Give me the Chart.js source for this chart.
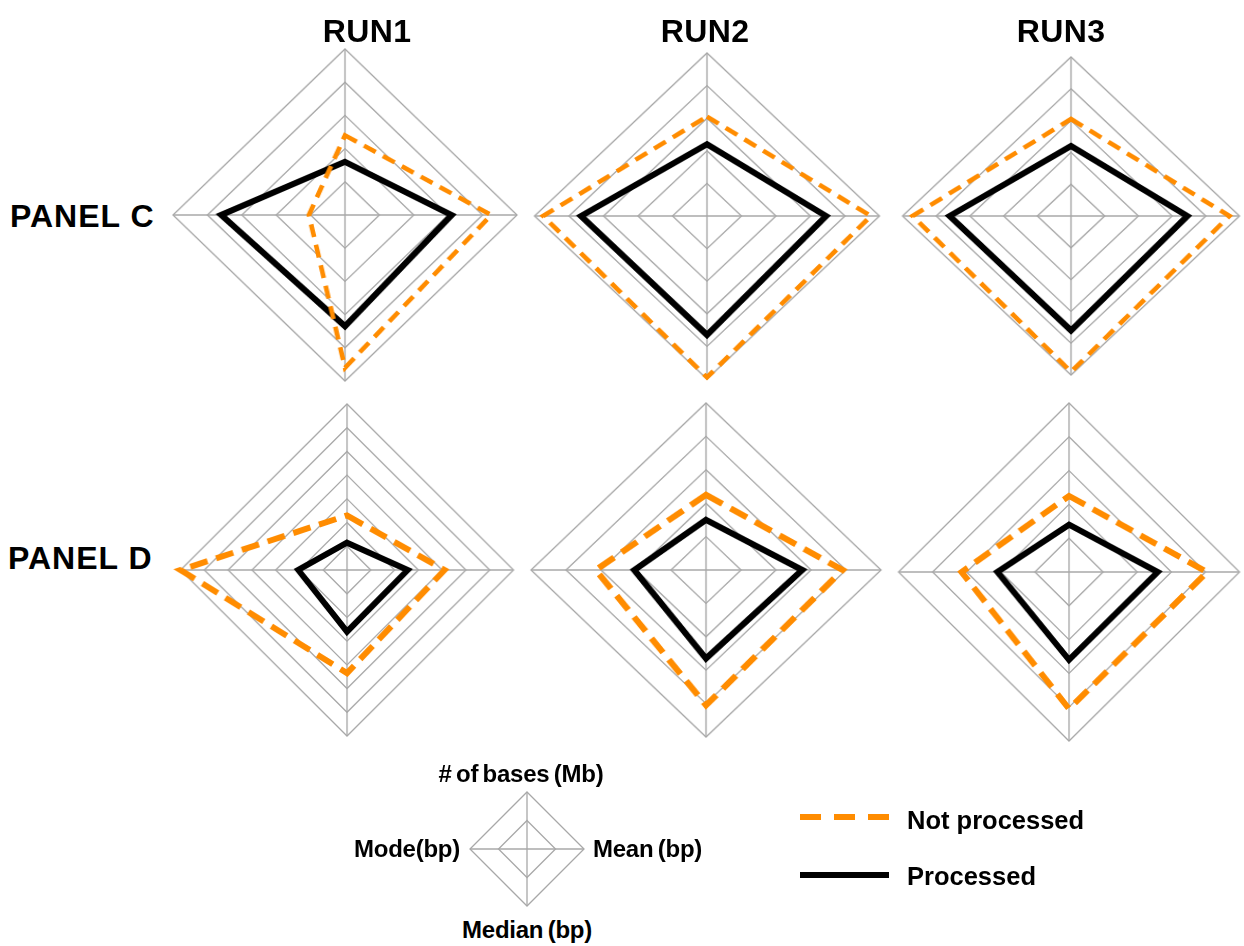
<!DOCTYPE html>
<html>
<head>
<meta charset="utf-8">
<script src="https://cdn.jsdelivr.net/npm/chart.js@4/dist/chart.umd.min.js"></script>
<style>
  html, body { margin: 0; padding: 0; background: #fff; }
  #page { position: relative; width: 1244px; height: 946px; overflow: hidden; font-family: "Liberation Sans", Arial, sans-serif; font-weight: bold; color: #000; }
  .txt { position: absolute; white-space: nowrap; line-height: 1; }
  .c { transform: translate(-50%, -50%); }
  .l { transform: translate(0, -50%); }
  .r { transform: translate(-100%, -50%); }
  .panel { position: absolute; transform-origin: 50% 50%; }
</style>
</head>
<body>
<div id="page"></div>
<script>
// axes, clockwise from the top
const axisLabels = ['# of bases (Mb)', 'Mean (bp)', 'Median (bp)', 'Mode(bp)'];
const runNames = ['RUN1', 'RUN2', 'RUN3'];
const panelNames = ['PANEL C', 'PANEL D'];
const seriesNames = ['Not processed', 'Processed'];

// values in ring units, one row per run
const panelCNotProcessed = [[2.4, 4.25, 4.6, 1.05], [3.05, 4.75, 4.95, 4.75], [3.05, 4.7, 4.9, 4.7]];
const panelCProcessed    = [[1.6, 3.1, 3.35, 3.6], [2.2, 3.45, 3.65, 3.65], [2.2, 3.45, 3.6, 3.6]];
const panelDNotProcessed = [[2.3, 4.1, 4.35, 7], [2.25, 3.9, 4.05, 3.15], [2.25, 4.05, 4.05, 3.15]];
const panelDProcessed    = [[1.15, 2.55, 2.6, 2.05], [1.5, 2.75, 2.65, 2.05], [1.4, 2.6, 2.6, 2.1]];

// number of rings on each radar
const panelCScaleMax = [5, 5, 5];
const panelDScaleMax = [7, 5, 5];

const ORANGE = '#ff8c00';
const GRID = '#a8a8a8';
const page = document.getElementById('page');

// where each radar sits: centre and horizontal / vertical radius
const layout = [
  [{ cx: 345, cy: 215.5, rx: 172.5, ry: 166.5 }, { cx: 707, cy: 216.5, rx: 173, ry: 163.5 }, { cx: 1071, cy: 215.5, rx: 168.5, ry: 159 }],
  [{ cx: 347, cy: 570, rx: 167, ry: 166.5 }, { cx: 706, cy: 570, rx: 175, ry: 167 }, { cx: 1069, cy: 571.5, rx: 170.5, ry: 169 }]
];

function addText(text, x, y, size, cls, extra) {
  const d = document.createElement('div');
  d.className = 'txt ' + cls;
  d.textContent = text;
  d.style.left = x + 'px';
  d.style.top = y + 'px';
  d.style.fontSize = size + 'px';
  if (extra) Object.assign(d.style, extra);
  page.appendChild(d);
}

function makeRadar(pos, max, datasets) {
  const pad = 10;
  const size = Math.round(pos.ry * 2) + pad * 2;
  const canvas = document.createElement('canvas');
  canvas.width = size;
  canvas.height = size;
  canvas.className = 'panel';
  canvas.style.left = (pos.cx - size / 2) + 'px';
  canvas.style.top = (pos.cy - size / 2) + 'px';
  canvas.style.width = size + 'px';
  canvas.style.height = size + 'px';
  canvas.style.transform = 'scaleX(' + (pos.rx / pos.ry) + ')';
  page.appendChild(canvas);

  new Chart(canvas.getContext('2d'), {
    type: 'radar',
    data: { labels: axisLabels, datasets: datasets },
    options: {
      responsive: false,
      animation: false,
      layout: { padding: pad },
      elements: { point: { radius: 0, hoverRadius: 0 }, line: { tension: 0 } },
      plugins: { legend: { display: false }, tooltip: { enabled: false } },
      scales: {
        r: {
          min: 0,
          max: max,
          ticks: { display: false, stepSize: 1 },
          pointLabels: { display: false },
          grid: { circular: false, color: GRID, lineWidth: 1.3 },
          angleLines: { color: GRID, lineWidth: 1.3 }
        }
      }
    }
  });
}

const notProcessed = [panelCNotProcessed, panelDNotProcessed];
const processed = [panelCProcessed, panelDProcessed];
const scaleMax = [panelCScaleMax, panelDScaleMax];

for (let p = 0; p < 2; p++) {
  for (let r = 0; r < 3; r++) {
    makeRadar(layout[p][r], scaleMax[p][r], [
      {
        label: seriesNames[0],
        data: notProcessed[p][r],
        borderColor: ORANGE,
        borderWidth: p === 0 ? 4.5 : 6,
        borderDash: p === 0 ? [13, 8] : [18, 9],
        fill: false,
        clip: false
      },
      {
        label: seriesNames[1],
        data: processed[p][r],
        borderColor: '#000',
        borderWidth: 6,
        fill: false,
        clip: false
      }
    ]);
  }
}

// key radar showing which axis is which
makeRadar({ cx: 527, cy: 849, rx: 57, ry: 57 }, 2, []);

// titles
const runX = [367, 705, 1061];
runNames.forEach((n, i) => addText(n, runX[i], 31, 32, 'c', { letterSpacing: '0.4px' }));
addText(panelNames[0], 10, 216, 32, 'l', { letterSpacing: '1px' });
addText(panelNames[1], 8, 558, 32, 'l', { letterSpacing: '1px' });

// axis names round the key radar
const axisStyle = { letterSpacing: '-0.25px', wordSpacing: '-2px' };
addText(axisLabels[0], 521, 774, 24, 'c', axisStyle);
addText(axisLabels[1], 593, 849, 24, 'l', axisStyle);
addText(axisLabels[2], 527, 930, 24, 'c', axisStyle);
addText(axisLabels[3], 460, 849, 24, 'r', axisStyle);

// series key
const svgNS = 'http://www.w3.org/2000/svg';
const svg = document.createElementNS(svgNS, 'svg');
svg.setAttribute('width', 1244);
svg.setAttribute('height', 946);
svg.style.position = 'absolute';
svg.style.left = '0';
svg.style.top = '0';
function keyLine(y, color, dash) {
  const ln = document.createElementNS(svgNS, 'line');
  ln.setAttribute('x1', 800);
  ln.setAttribute('x2', 889);
  ln.setAttribute('y1', y);
  ln.setAttribute('y2', y);
  ln.setAttribute('stroke', color);
  ln.setAttribute('stroke-width', 6);
  if (dash) ln.setAttribute('stroke-dasharray', dash);
  svg.appendChild(ln);
}
keyLine(817, ORANGE, '21 13');
keyLine(875, '#000', null);
page.appendChild(svg);
addText(seriesNames[0], 907, 821, 25.5, 'l');
addText(seriesNames[1], 907, 877, 25.5, 'l');
</script>
</body>
</html>
